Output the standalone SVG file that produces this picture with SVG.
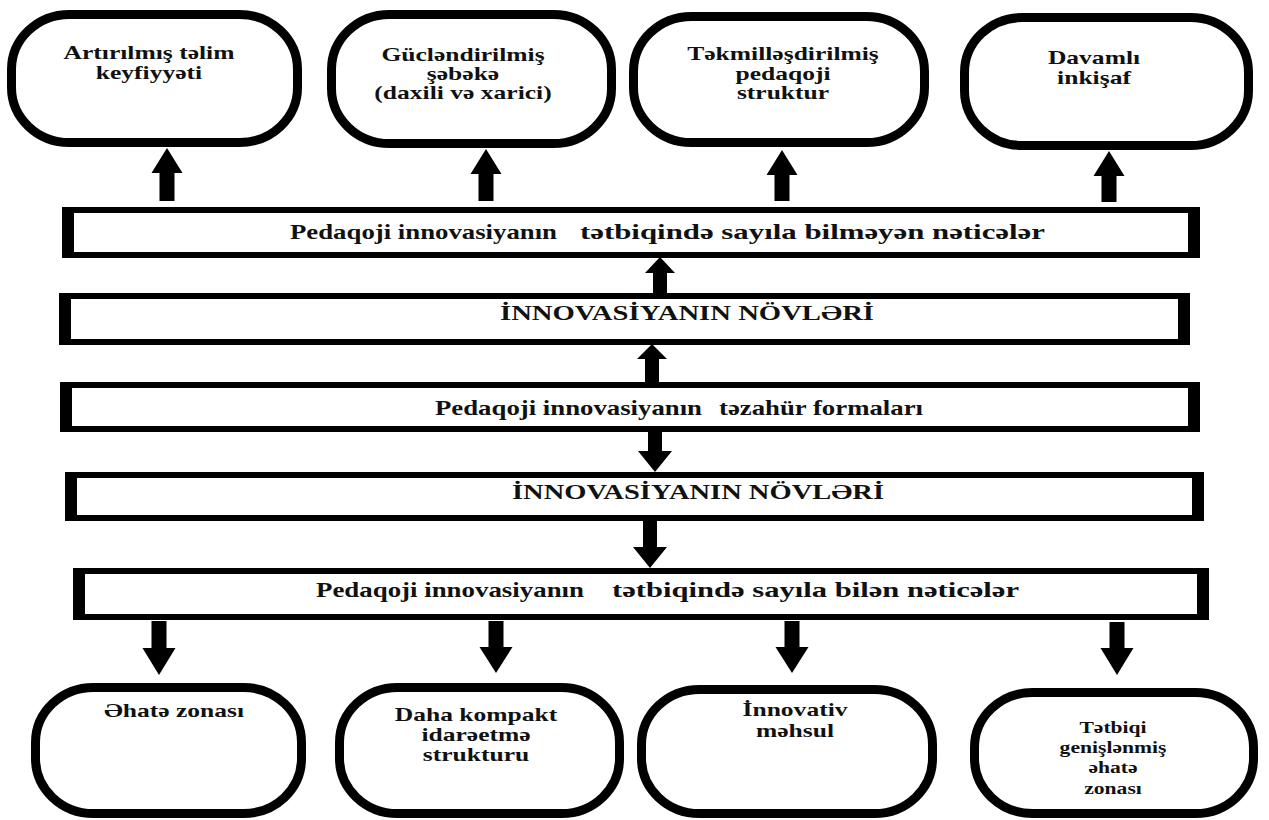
<svg xmlns="http://www.w3.org/2000/svg" width="1269" height="820" viewBox="0 0 1269 820">
<style>
.pill{fill:#fff;stroke:#000;stroke-width:9}
.fo{fill:#000}
.fi{fill:#fff}
.pt{font-family:"Liberation Serif","Times New Roman",serif;font-weight:bold;font-size:18px;fill:#111;text-anchor:middle}
.bt{font-family:"Liberation Serif","Times New Roman",serif;font-weight:bold;font-size:21px;fill:#111}
.arr{fill:#000}
</style>
<rect width="1269" height="820" fill="#fff"/>
<g id="connectors">
<polygon class="arr" points="167,148 182.5,173 174.5,173 174.5,201 159.5,201 159.5,173 151.5,173"/>
<polygon class="arr" points="486,149 501.5,174 493.5,174 493.5,201 478.5,201 478.5,174 470.5,174"/>
<polygon class="arr" points="782,150 797.5,175 789.5,175 789.5,201 774.5,201 774.5,175 766.5,175"/>
<polygon class="arr" points="1109,151 1124.5,176 1116.5,176 1116.5,202 1101.5,202 1101.5,176 1093.5,176"/>
<polygon class="arr" points="660,257 675,273 667,273 667,293 653,293 653,273 645,273"/>
<polygon class="arr" points="652,344 667,359 659,359 659,382 645,382 645,359 637,359"/>
<polygon class="arr" points="648,431 662,431 662,451 672,451 655,472 638,451 648,451"/>
<polygon class="arr" points="643,520 657,520 657,547 667,547 650,568 633,547 643,547"/>
<polygon class="arr" points="151.5,621 166.5,621 166.5,648 175.5,648 159,675 142.5,648 151.5,648"/>
<polygon class="arr" points="488.5,621 503.5,621 503.5,647 512.5,647 496,673 479.5,647 488.5,647"/>
<polygon class="arr" points="784.5,621 799.5,621 799.5,647 808.5,647 792,673 775.5,647 784.5,647"/>
<polygon class="arr" points="1109.5,622 1124.5,622 1124.5,648 1133.5,648 1117,675 1100.5,648 1109.5,648"/>
</g>
<g id="pill1"><rect class="pill" x="11.5" y="14.5" width="286" height="128" rx="58" ry="55"/>
<text class="pt" transform="translate(149 0) scale(1.42 1)"><tspan x="0" y="59">Artırılmış təlim</tspan><tspan x="0" y="79">keyfiyyəti</tspan></text></g>
<g id="pill2"><rect class="pill" x="331.5" y="14.5" width="280" height="129" rx="58" ry="55"/>
<text class="pt" transform="translate(463 0) scale(1.42 1)"><tspan x="0" y="61">Gücləndirilmiş</tspan><tspan x="0" y="80">şəbəkə</tspan><tspan x="0" y="99">(daxili və xarici)</tspan></text></g>
<g id="pill3"><rect class="pill" x="633.5" y="16.5" width="291" height="126" rx="58" ry="55"/>
<text class="pt" transform="translate(783 0) scale(1.42 1)"><tspan x="0" y="60">Təkmilləşdirilmiş</tspan><tspan x="0" y="80">pedaqoji</tspan><tspan x="0" y="99">struktur</tspan></text></g>
<g id="pill4"><rect class="pill" x="964.5" y="17.5" width="284" height="128" rx="58" ry="55"/>
<text class="pt" transform="translate(1094 0) scale(1.42 1)"><tspan x="0" y="64">Davamlı</tspan><tspan x="0" y="84">inkişaf</tspan></text></g>
<g id="boxA"><rect class="fo" x="62" y="207" width="1138" height="51"/><rect class="fi" x="74" y="213" width="1114" height="39"/>
<text class="bt" x="290" y="239" textLength="267" lengthAdjust="spacingAndGlyphs">Pedaqoji innovasiyanın</text>
<text class="bt" x="580" y="239" textLength="465" lengthAdjust="spacingAndGlyphs">tətbiqində sayıla bilməyən nəticələr</text></g>
<g id="boxB"><rect class="fo" x="59" y="293" width="1131" height="52"/><rect class="fi" x="71" y="299" width="1107" height="40"/>
<text class="bt" x="500" y="320" textLength="374" lengthAdjust="spacingAndGlyphs">İNNOVASİYANIN NÖVLƏRİ</text></g>
<g id="boxC"><rect class="fo" x="60" y="382" width="1140" height="50"/><rect class="fi" x="72" y="388" width="1116" height="38"/>
<text class="bt" x="435" y="415" textLength="267" lengthAdjust="spacingAndGlyphs">Pedaqoji innovasiyanın</text>
<text class="bt" x="719" y="415" textLength="204" lengthAdjust="spacingAndGlyphs">təzahür formaları</text></g>
<g id="boxD"><rect class="fo" x="65" y="472" width="1139" height="49"/><rect class="fi" x="77" y="478" width="1115" height="37"/>
<text class="bt" x="512" y="499" textLength="372" lengthAdjust="spacingAndGlyphs">İNNOVASİYANIN NÖVLƏRİ</text></g>
<g id="boxE"><rect class="fo" x="73" y="568" width="1136" height="52"/><rect class="fi" x="85" y="574" width="1112" height="40"/>
<text class="bt" x="316" y="597" textLength="268" lengthAdjust="spacingAndGlyphs">Pedaqoji innovasiyanın</text>
<text class="bt" x="612" y="597" textLength="407" lengthAdjust="spacingAndGlyphs">tətbiqində sayıla bilən nəticələr</text></g>
<g id="pill5"><rect class="pill" x="35.5" y="687.5" width="266" height="126" rx="58" ry="55"/>
<text class="pt" transform="translate(174 0) scale(1.42 1)"><tspan x="0" y="717">Əhatə zonası</tspan></text></g>
<g id="pill6"><rect class="pill" x="339.5" y="687.5" width="280" height="126" rx="58" ry="55"/>
<text class="pt" transform="translate(476 0) scale(1.42 1)"><tspan x="0" y="721">Daha kompakt</tspan><tspan x="0" y="741">idarəetmə</tspan><tspan x="0" y="761">strukturu</tspan></text></g>
<g id="pill7"><rect class="pill" x="641.5" y="689.5" width="291" height="124" rx="58" ry="55"/>
<text class="pt" transform="translate(795 0) scale(1.42 1)"><tspan x="0" y="716">İnnovativ</tspan><tspan x="0" y="737">məhsul</tspan></text></g>
<g id="pill8"><rect class="pill" x="974.5" y="692.5" width="279" height="121" rx="58" ry="55"/>
<text class="pt" style="font-size:16px" transform="translate(1113 0) scale(1.35 1)"><tspan x="0" y="733">Tətbiqi</tspan><tspan x="0" y="753">genişlənmiş</tspan><tspan x="0" y="773">əhatə</tspan><tspan x="0" y="794">zonası</tspan></text></g>
</svg>
